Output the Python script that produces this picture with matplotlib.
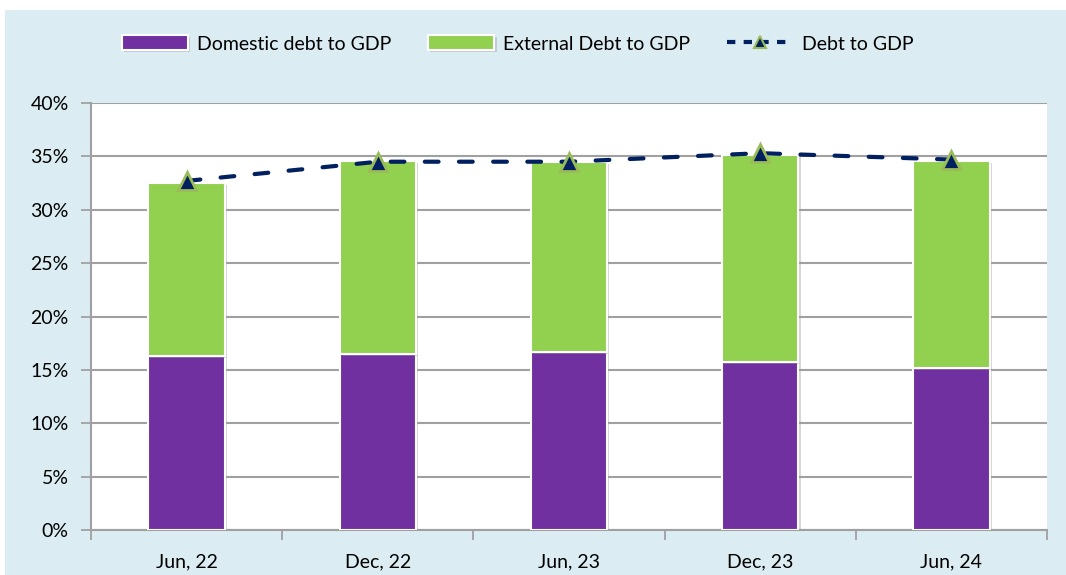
import matplotlib
matplotlib.use("Agg")
import matplotlib.pyplot as plt
import numpy as np
from matplotlib.patches import Rectangle
from matplotlib.lines import Line2D
import matplotlib.patheffects as pe
from matplotlib.ticker import FixedLocator, PercentFormatter

categories = ["Jun, 22", "Dec, 22", "Jun, 23", "Dec, 23", "Jun, 24"]
domestic = [16.3, 16.5, 16.7, 15.7, 15.2]
external = [16.2, 18.1, 17.8, 19.4, 19.4]
debt_to_gdp = [32.7, 34.5, 34.5, 35.3, 34.7]
yticks = [0, 5, 10, 15, 20, 25, 30, 35, 40]

plt.rcParams['font.family'] = ['Lato', 'DejaVu Sans']

fig = plt.figure(figsize=(10.66, 5.75), dpi=100)
fig.patch.set_facecolor('white')
fig.patches.append(Rectangle((5/1066, 0), 1 - 5/1066, 1 - 10/575, transform=fig.transFigure,
                             facecolor='#DBEDF3', edgecolor='none', zorder=-10))

ax = fig.add_axes([91/1066, 1 - 530/575, (1047 - 91)/1066, (530 - 103)/575])
ax.set_facecolor('white')

x = np.arange(len(categories))
b1 = ax.bar(x, domestic, width=0.4, color='#7030A0', edgecolor='white', linewidth=1.5,
            label='Domestic debt to GDP', zorder=3)
b2 = ax.bar(x, external, width=0.4, bottom=domestic, color='#92D050', edgecolor='white',
            linewidth=1.5, label='External Debt to GDP', zorder=3)
for p in list(b1) + list(b2):
    p.set_path_effects([pe.withSimplePatchShadow(offset=(1.5, -1.5), shadow_rgbFace='#999999', alpha=0.4)])

line, = ax.plot(x, debt_to_gdp, linestyle=(0, (3.3, 4.9)), color='#002060', linewidth=3,
                marker='^', markersize=13, markerfacecolor='#002060', markeredgecolor='#9BBB59',
                markeredgewidth=2, label='Debt to GDP', zorder=5, dash_capstyle='round')

ax.set_xlim(-0.5, len(categories) - 0.5)
ax.set_ylim(0, 40)
ax.set_yticks(yticks)
ax.yaxis.set_major_formatter(PercentFormatter(decimals=0))
ax.yaxis.grid(True, color='#A0A0A0', linewidth=1.5, zorder=0)
ax.set_axisbelow(True)

ax.xaxis.set_major_locator(FixedLocator(np.arange(-0.5, len(categories), 1.0)))
ax.xaxis.set_major_formatter(plt.NullFormatter())
ax.xaxis.set_minor_locator(FixedLocator(x))
ax.set_xticklabels(categories, minor=True)
ax.tick_params(axis='x', which='major', length=7, width=1.3, color='#A0A0A0', direction='out')
ax.tick_params(axis='x', which='minor', length=0, pad=17, labelsize=14)
ax.tick_params(axis='y', length=7, width=1.3, color='#A0A0A0', direction='out', pad=9,
               labelsize=14)

for s in ['top', 'right']:
    ax.spines[s].set_visible(False)
for s in ['left', 'bottom']:
    ax.spines[s].set_color('#A0A0A0')
    ax.spines[s].set_linewidth(1.5)

leg_line = Line2D([], [], linestyle=(0, (2, 2)), color='#002060', linewidth=3,
                  marker='^', markersize=9, markerfacecolor='#002060', markeredgecolor='#9BBB59',
                  markeredgewidth=1.5)
leg = fig.legend(handles=[b1, b2, leg_line],
                 labels=['Domestic debt to GDP', 'External Debt to GDP', 'Debt to GDP'],
                 loc='center', bbox_to_anchor=(518/1066, 1 - 44/575),
                 ncol=3, frameon=False, fontsize=14, handlelength=3.4, handleheight=0.8,
                 columnspacing=1.9, handletextpad=0.45)

fig.savefig('out.png', dpi=100)
